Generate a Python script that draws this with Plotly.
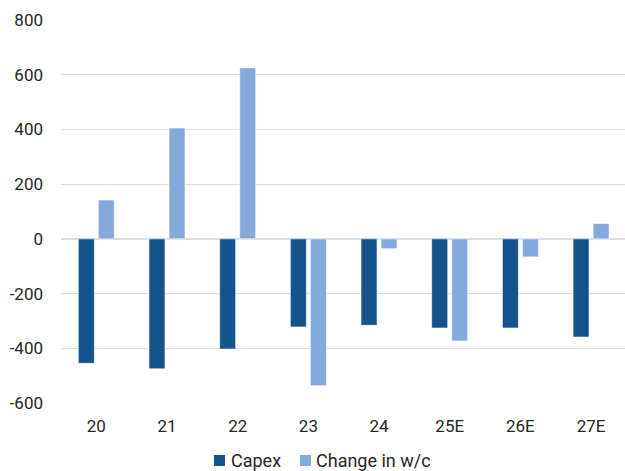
import plotly.graph_objects as go

categories = ["20", "21", "22", "23", "24", "25E", "26E", "27E"]
capex = [-455, -475, -403, -322, -316, -326, -326, -359]
change_wc = [142, 405, 625, -537, -36, -373, -66, 56]
series_names = ["Capex", "Change in w/c"]
colors = ["#15548A", "#84AADC"]
y_ticks = [-600, -400, -200, 0, 200, 400, 600, 800]
y_tick_labels = [str(v) for v in y_ticks]

W, H = 625, 471
L, R, T, B = 61, 0, 20, 68
text_color = "#262626"
font_family = "Roboto, Arial, sans-serif"

fig = go.Figure()
for name, vals, col in zip(series_names, [capex, change_wc], colors):
    fig.add_trace(go.Bar(
        x=categories, y=vals, name=name,
        marker=dict(color=col, line=dict(color="rgba(255,255,255,0.6)", width=1)),
        showlegend=False,
    ))

fig.update_layout(
    width=W, height=H,
    margin=dict(l=L, r=R, t=T, b=B),
    paper_bgcolor="white", plot_bgcolor="white",
    barmode="group", bargap=0.433, bargroupgap=0.2,
    font=dict(family=font_family, size=17, color=text_color),
    xaxis=dict(
        type="category", range=[-0.5, 7.48], showgrid=False, showline=False,
        ticks="", ticklabelstandoff=11, tickfont=dict(size=17),
    ),
    yaxis=dict(
        range=[-600, 800], tickvals=y_ticks, ticktext=y_tick_labels,
        showgrid=True, gridcolor="#dcdcdc",
        gridwidth=1, zeroline=True, zerolinecolor="#dcdcdc", zerolinewidth=1.5,
        showline=False, ticks="", ticklabelstandoff=17, tickfont=dict(size=17),
    ),
)

# legend drawn below the axis: colour swatch followed by series name
plot_w = W - L - R
plot_h = H - T - B

def px_x(px):
    return (px - L) / plot_w

def px_y(py):
    return (H - B - py) / plot_h

legend_items = [(214, 229), (300, 314)]
for (sx, tx), name, col in zip(legend_items, series_names, colors):
    fig.add_shape(type="rect", xref="paper", yref="paper",
                  x0=px_x(sx), x1=px_x(sx + 11), y0=px_y(466), y1=px_y(455),
                  fillcolor=col, line=dict(width=0))
    fig.add_annotation(xref="paper", yref="paper", x=px_x(tx), y=px_y(460),
                       text=name, showarrow=False, xanchor="left", yanchor="middle",
                       font=dict(size=18, color=text_color, family=font_family))

fig.write_html("out.html")
